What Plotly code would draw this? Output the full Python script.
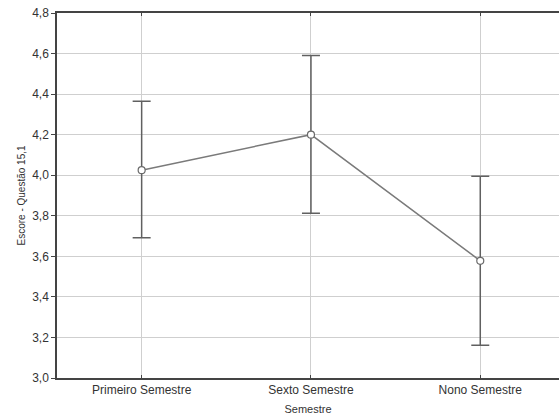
import plotly.graph_objects as go

categories = ["Primeiro Semestre", "Sexto Semestre", "Nono Semestre"]
means = [4.025, 4.20, 3.578]
upper = [4.365, 4.59, 3.995]
lower = [3.692, 3.812, 3.162]
yticks = [3.0, 3.2, 3.4, 3.6, 3.8, 4.0, 4.2, 4.4, 4.6, 4.8]

err_plus = [u - m for u, m in zip(upper, means)]
err_minus = [m - l for m, l in zip(means, lower)]

fig = go.Figure()
fig.add_trace(go.Scatter(
    x=categories, y=means, mode="lines+markers",
    line=dict(color="#7a7a7a", width=1.5),
    marker=dict(symbol="circle", size=7, color="white",
                line=dict(color="#6a6a6a", width=1.2)),
    error_y=dict(type="data", symmetric=False, array=err_plus,
                 arrayminus=err_minus, color="#606060", thickness=1.5, width=9),
    showlegend=False,
))

fig.update_layout(
    width=559, height=418,
    margin=dict(l=57, r=0, t=13, b=40),
    paper_bgcolor="white", plot_bgcolor="white",
    separators=",.",
    font=dict(family="Liberation Sans, Arial, sans-serif", color="#333333", size=12),
    xaxis=dict(
        range=[-0.5, 2.465],
        showgrid=True, gridcolor="#cfcfcf", gridwidth=1,
        showline=True, linecolor="#444444", linewidth=1.5, mirror="ticks",
        ticks="inside", ticklen=3, tickcolor="#444444",
        tickfont=dict(size=12, color="#333333"),
        title=dict(text="Semestre", font=dict(size=11, color="#333333"), standoff=9),
        zeroline=False,
    ),
    yaxis=dict(
        range=[3.0, 4.8], tickvals=yticks, tickformat=".1f",
        showgrid=True, gridcolor="#cfcfcf", gridwidth=1,
        showline=True, linecolor="#444444", linewidth=1.5, mirror=False,
        ticks="outside", ticklen=4, tickcolor="#444444",
        tickfont=dict(size=12, color="#333333"),
        ticklabeloverflow="allow",
        title=dict(text="Escore - Questão 15,1", font=dict(size=10, color="#333333"), standoff=5),
        zeroline=False,
    ),
)

fig.write_html("out.html", config={"displayModeBar": False},
               post_script="document.body.style.margin='0';document.body.style.overflow='hidden';")
